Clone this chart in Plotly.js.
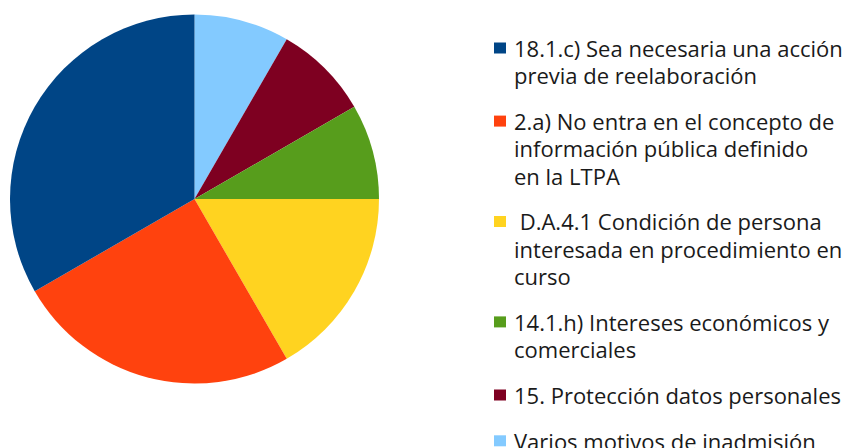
<!DOCTYPE html>
<html>
<head>
<meta charset="utf-8">
<script src="https://cdn.plot.ly/plotly-3.0.1.min.js"></script>
<style>html,body{margin:0;padding:0;background:#fff;}#chart{width:847px;height:448px;}</style>
</head>
<body>
<div id="chart"></div>
<script>
var categories = [
  "18.1.c) Sea necesaria una acción<br>previa de reelaboración",
  "2.a) No entra en el concepto de<br>información pública definido<br>en la LTPA",
  " D.A.4.1 Condición de persona<br>interesada en procedimiento en<br>curso",
  "14.1.h) Intereses económicos y<br>comerciales",
  "15. Protección datos personales",
  "Varios motivos de inadmisión"
];
var values = [4, 3, 2, 1, 1, 1];
var colors = ["#004586", "#ff420e", "#ffd320", "#579d1c", "#7e0021", "#83caff"];

var W = 847, H = 448;
var FS = 22, LH = 27.3, GAP = 18.5;
var FONT = "Open Sans, Noto Sans, sans-serif";

// The reference runs counter-clockwise from 12 o'clock; drawn here clockwise
// with the slice order reversed, which gives the same picture.
var trace = {
  type: "pie",
  labels: categories.slice().reverse(),
  values: values.slice().reverse(),
  sort: false,
  direction: "clockwise",
  rotation: 0,
  textinfo: "none",
  hoverinfo: "label+value",
  showlegend: false,
  marker: {colors: colors.slice().reverse(), line: {width: 0}},
  domain: {x: [10/W, 379/W], y: [(H-383.5)/H, (H-14.5)/H]}
};

// Legend drawn as text + colour squares (to match the reference spacing)
var annotations = [], shapes = [];
var yFirst = 48; // pixel centre of first line of the first entry
for (var i = 0; i < categories.length; i++) {
  var lines = categories[i].split("<br>");
  for (var j = 0; j < lines.length; j++) {
    annotations.push({
      xref: "paper", yref: "paper",
      x: 513/W, y: 1 - (yFirst + j*LH)/H,
      xanchor: "left", yanchor: "middle", align: "left",
      showarrow: false, borderpad: 0,
      text: lines[j],
      font: {size: FS, color: "#1a1a1a", family: FONT}
    });
  }
  shapes.push({
    type: "rect", xref: "paper", yref: "paper",
    x0: 494/W, x1: 506/W,
    y0: 1 - (yFirst + 5.5)/H, y1: 1 - (yFirst - 5.5)/H,
    fillcolor: colors[i], line: {width: 0}
  });
  yFirst += lines.length * LH + GAP;
}

var layout = {
  width: W, height: H,
  margin: {l: 0, r: 0, t: 0, b: 0, autoexpand: false},
  paper_bgcolor: "#ffffff",
  font: {family: FONT, color: "#1a1a1a", size: FS},
  showlegend: false,
  annotations: annotations,
  shapes: shapes
};
Plotly.newPlot("chart", [trace], layout, {displayModeBar: false, staticPlot: true});
</script>
</body>
</html>
